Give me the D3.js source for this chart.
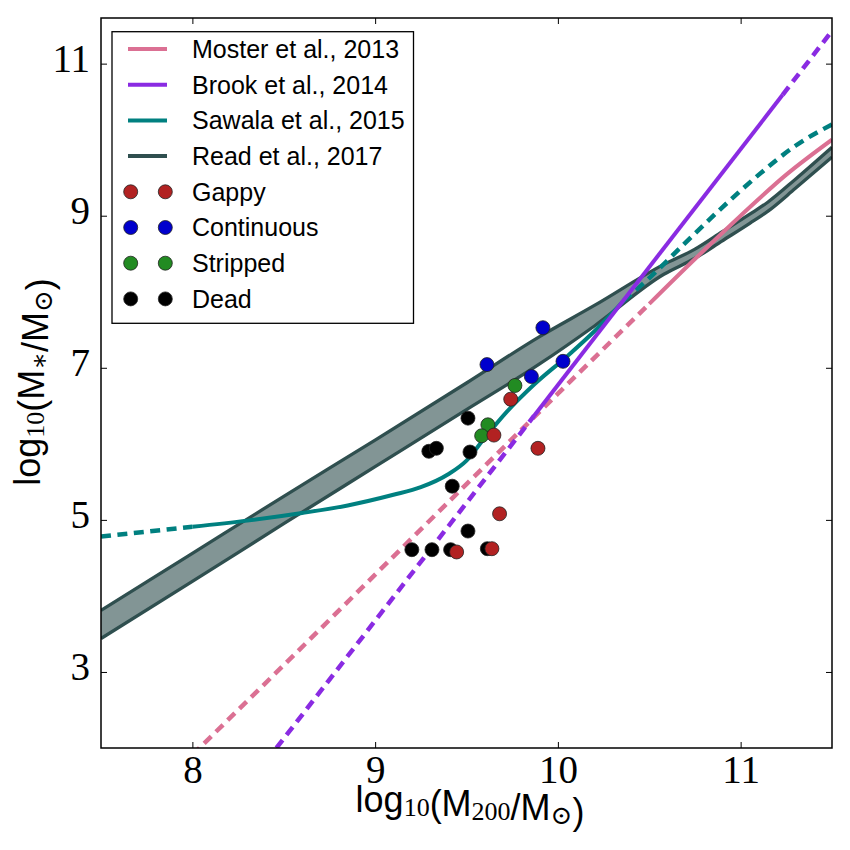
<!DOCTYPE html>
<html>
<head>
<meta charset="utf-8">
<script src="https://cdn.jsdelivr.net/npm/d3@7"></script>
<style>
  body { margin: 0; background: #fff; }
  svg { display: block; }
</style>
</head>
<body>
<div id="chart"></div>
<script>
// halo mass axis values, log10(M200/Msun), and log10(M*/Msun)
const mosterX = [8.0, 8.5, 9.0, 9.5, 10.0, 10.5, 10.75, 11.0, 11.25, 11.5];
const mosterY = [1.91, 3.09, 4.28, 5.47, 6.66, 7.84, 8.43, 9.0, 9.54, 10.0];

const brookX = [8.46, 9.87, 11.23, 11.5];
const brookY = [2.0, 6.37, 10.59, 11.43];

const sawalaX = [7.5, 8.0, 8.3, 8.6, 8.85, 9.1, 9.25, 9.4, 9.5, 9.6, 9.72, 9.87, 10.05, 10.2, 10.36, 10.5, 10.7, 10.9, 11.1, 11.3, 11.5];
const sawalaY = [4.78, 4.91, 4.99, 5.09, 5.19, 5.33, 5.43, 5.60, 5.78, 6.08, 6.42, 6.78, 7.15, 7.48, 7.88, 8.18, 8.65, 9.11, 9.54, 9.92, 10.2];

const readX = [7.5, 8.0, 8.5, 9.0, 9.5, 9.9, 10.2, 10.58, 10.75, 10.9, 11.05, 11.15, 11.3, 11.5];
const readUpper = [3.81, 4.56, 5.31, 6.05, 6.80, 7.41, 7.82, 8.36, 8.56, 8.79, 9.02, 9.18, 9.48, 9.90];
const readLower = [3.44, 4.19, 4.95, 5.70, 6.45, 7.05, 7.55, 8.23, 8.44, 8.67, 8.90, 9.06, 9.36, 9.77];

// where each relation is drawn solid (outside: dashed)
const mosterSolid = [10.5, 11.5];
const brookSolid = [9.87, 11.23];
const sawalaSolid = [8.0, 10.36];

const deadX = [9.508, 9.294, 9.335, 9.519, 9.422, 9.508, 9.201, 9.311, 9.413, 9.614];
const deadY = [6.338, 5.902, 5.941, 5.892, 5.443, 4.853, 4.608, 4.608, 4.608, 4.621];
const strippedX = [9.765, 9.617, 9.583];
const strippedY = [6.767, 6.250, 6.106];
const contX = [9.918, 9.612, 9.855, 10.028];
const contY = [7.527, 7.042, 6.885, 7.085];
const gappyX = [9.742, 9.650, 9.891, 9.681, 9.446, 9.639];
const gappyY = [6.587, 6.115, 5.941, 5.080, 4.578, 4.621];

const xTicks = [8, 9, 10, 11];
const yTicks = [3, 5, 7, 9, 11];

const lineLabels = ["Moster et al., 2013", "Brook et al., 2014", "Sawala et al., 2015", "Read et al., 2017"];
const pointLabels = ["Gappy", "Continuous", "Stripped", "Dead"];

const lineColors = ["#db7093", "#8a2be2", "#008080", "#2f4f4f"];
const pointColors = ["#b22222", "#0000cd", "#228b22", "#000000"];

const margin = {top: 18, right: 18, bottom: 102, left: 101},
      width = 850 - margin.left - margin.right,
      height = 850 - margin.top - margin.bottom;

const svg = d3.select("#chart")
  .append("svg")
  .attr("width", 850)
  .attr("height", 850)
  .append("g")
  .attr("transform", `translate(${margin.left},${margin.top})`);

const x = d3.scaleLinear().domain([7.5, 11.5]).range([0, width]);
const y = d3.scaleLinear().domain([2, 11.6]).range([height, 0]);

svg.append("clipPath").attr("id", "clip")
  .append("rect").attr("width", width).attr("height", height);

const plot = svg.append("g").attr("clip-path", "url(#clip)");

const line = d3.line().x(d => x(d[0])).y(d => y(d[1])).curve(d3.curveMonotoneX);
const zip = (xs, ys) => xs.map((v, i) => [v, ys[i]]);
const part = (pts, a, b) => pts.filter(p => p[0] >= a - 1e-9 && p[0] <= b + 1e-9);

// Read et al. band
const readPts = readX.map((v, i) => ({x: v, lo: readLower[i], hi: readUpper[i]}));
plot.append("path")
  .datum(readPts)
  .attr("fill", lineColors[3])
  .attr("fill-opacity", 0.6)
  .attr("d", d3.area().x(d => x(d.x)).y0(d => y(d.lo)).y1(d => y(d.hi)).curve(d3.curveMonotoneX));
[readUpper, readLower].forEach(ys => {
  plot.append("path")
    .datum(zip(readX, ys))
    .attr("fill", "none")
    .attr("stroke", lineColors[3])
    .attr("stroke-width", 3.3)
    .attr("d", line);
});

// relations: dashed outside their range, solid inside
function relation(xs, ys, solid, color) {
  const pts = zip(xs, ys);
  const lo = part(pts, -Infinity, solid[0]);
  const mid = part(pts, solid[0], solid[1]);
  const hi = part(pts, solid[1], Infinity);
  [lo, hi].forEach(seg => {
    if (seg.length < 2) return;
    plot.append("path").datum(seg)
      .attr("fill", "none").attr("stroke", color)
      .attr("stroke-width", 4.5).attr("stroke-dasharray", "10,6.5")
      .attr("d", line);
  });
  plot.append("path").datum(mid)
    .attr("fill", "none").attr("stroke", color)
    .attr("stroke-width", 4)
    .attr("d", line);
}
relation(sawalaX, sawalaY, sawalaSolid, lineColors[2]);
relation(mosterX, mosterY, mosterSolid, lineColors[0]);
relation(brookX, brookY, brookSolid, lineColors[1]);

// galaxies
[[deadX, deadY, 3], [strippedX, strippedY, 2], [contX, contY, 1], [gappyX, gappyY, 0]].forEach(([xs, ys, k]) => {
  svg.append("g").selectAll("circle")
    .data(zip(xs, ys))
    .enter().append("circle")
    .attr("cx", d => x(d[0]))
    .attr("cy", d => y(d[1]))
    .attr("r", 7)
    .attr("fill", pointColors[k])
    .attr("stroke", "#222")
    .attr("stroke-width", 0.8);
});

// axes, ticks pointing inward on all four sides
const tickFont = "'Liberation Serif', 'DejaVu Serif', serif";
svg.append("g")
  .attr("transform", `translate(0,${height})`)
  .call(d3.axisBottom(x).tickValues(xTicks).tickSize(-6).tickPadding(7).tickFormat(d3.format("d")));
svg.append("g")
  .call(d3.axisTop(x).tickValues(xTicks).tickSize(-6).tickFormat(""));
svg.append("g")
  .call(d3.axisLeft(y).tickValues(yTicks).tickSize(-6).tickPadding(11).tickFormat(d3.format("d")))
  .selectAll("text").attr("dy", "0.2em");
svg.append("g")
  .attr("transform", `translate(${width},0)`)
  .call(d3.axisRight(y).tickValues(yTicks).tickSize(-6).tickFormat(""));

svg.selectAll(".domain").remove();
svg.selectAll(".tick line").attr("stroke", "black").attr("stroke-width", 1);
svg.selectAll(".tick text")
  .attr("fill", "black")
  .style("font-family", tickFont)
  .style("font-size", "39px");

svg.append("rect")
  .attr("width", width).attr("height", height)
  .attr("fill", "none").attr("stroke", "black").attr("stroke-width", 1.5);

// axis labels with subscripts
const sans = "'Liberation Sans', Arial, sans-serif";
function label(sel, parts) {
  parts.forEach(([t, sub]) => {
    sel.append("tspan")
      .attr("dy", sub ? 4 : 0)
      .style("font-family", sub ? tickFont : sans)
      .style("font-size", sub ? "26px" : "36px")
      .text(t);
    if (sub) sel.append("tspan").attr("dy", -4).text("");
  });
}
const xl = svg.append("text")
  .attr("x", 470 - margin.left)
  .attr("y", 812 - margin.top)
  .attr("text-anchor", "middle");
label(xl, [["log", false], ["10", true], ["(M", false], ["200", true], ["/M", false], ["\u2299", true], [")", false]]);

const yl = svg.append("text")
  .attr("transform", `translate(${40 - margin.left},${382 - margin.top}) rotate(-90)`)
  .attr("text-anchor", "middle");
label(yl, [["log", false], ["10", true], ["(M", false], ["\u2217", true], ["/M", false], ["\u2299", true], [")", false]]);

// legend
const leg = svg.append("g").attr("transform", `translate(${112 - margin.left},${31.7 - margin.top})`);
leg.append("rect")
  .attr("width", 301.5).attr("height", 291.6)
  .attr("fill", "white").attr("stroke", "black").attr("stroke-width", 1.3);
const rowY = i => 17.3 + i * 35.7;
lineLabels.forEach((t, i) => {
  leg.append("line")
    .attr("x1", 16).attr("x2", 55)
    .attr("y1", rowY(i)).attr("y2", rowY(i))
    .attr("stroke", lineColors[i]).attr("stroke-width", 4);
  leg.append("text").attr("x", 80).attr("y", rowY(i) + 9)
    .style("font-family", sans).style("font-size", "25px").text(t);
});
pointLabels.forEach((t, j) => {
  const i = j + 4;
  [18.7, 53.3].forEach(cx => {
    leg.append("circle")
      .attr("cx", cx).attr("cy", rowY(i)).attr("r", 7)
      .attr("fill", pointColors[j]).attr("stroke", "#222").attr("stroke-width", 0.8);
  });
  leg.append("text").attr("x", 80).attr("y", rowY(i) + 9)
    .style("font-family", sans).style("font-size", "25px").text(t);
});
</script>
</body>
</html>
